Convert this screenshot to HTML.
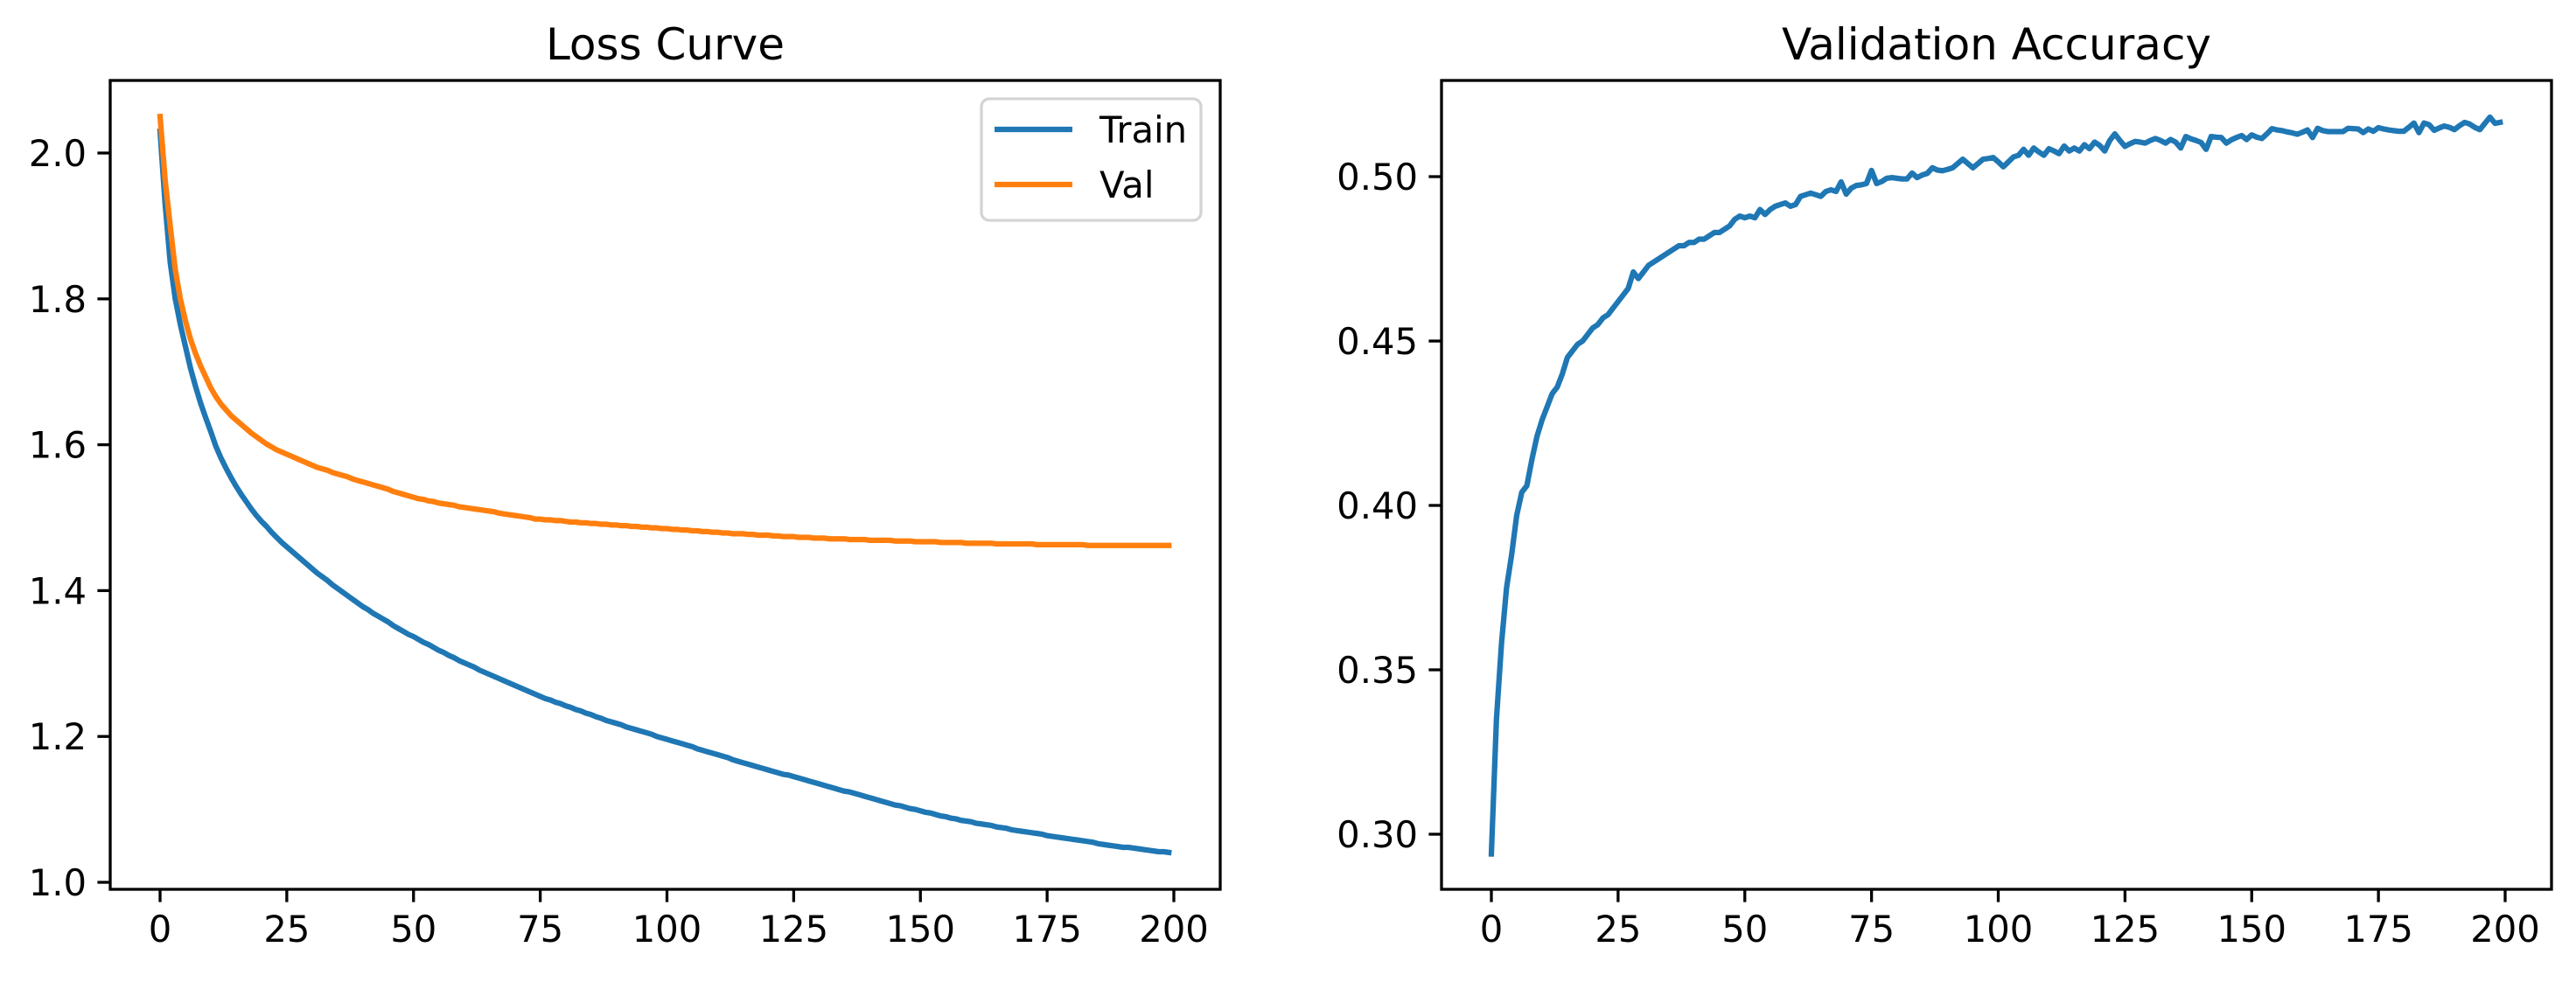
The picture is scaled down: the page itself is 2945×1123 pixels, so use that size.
<!DOCTYPE html>
<html><head><meta charset="utf-8"><style>
html,body{margin:0;padding:0;background:#fff;}
svg text{font-family:"DejaVu Sans","Liberation Sans",sans-serif;fill:#000;}
</style></head><body>
<svg id="fig" width="2945" height="1118" viewBox="0 0 2945 1118" xmlns="http://www.w3.org/2000/svg">
<rect width="2945" height="1118" fill="#fff"/>
<g id="left"></g>
<g id="right"></g>
</svg>
<script>
const xTicks = [0,25,50,75,100,125,150,175,200];
const lossTicks = [1.0,1.2,1.4,1.6,1.8,2.0];
const lossTickLabels = ["1.0","1.2","1.4","1.6","1.8","2.0"];
const accTicks = [0.30,0.35,0.40,0.45,0.50];
const accTickLabels = ["0.30","0.35","0.40","0.45","0.50"];
const trainLoss = [2.030,1.930,1.850,1.800,1.765,1.735,1.705,1.680,1.657,1.637,
1.618,1.598,1.582,1.568,1.555,1.543,1.532,1.522,1.512,1.503,
1.495,1.488,1.480,1.473,1.466,1.460,1.454,1.448,1.442,1.436,
1.430,1.424,1.419,1.414,1.408,1.403,1.398,1.393,1.388,1.383,
1.378,1.374,1.369,1.365,1.361,1.357,1.352,1.348,1.344,1.340,
1.337,1.333,1.329,1.326,1.322,1.318,1.315,1.311,1.308,1.304,
1.301,1.298,1.295,1.291,1.288,1.285,1.282,1.279,1.276,1.273,
1.270,1.267,1.264,1.261,1.258,1.255,1.252,1.250,1.247,1.245,
1.242,1.240,1.237,1.235,1.232,1.230,1.227,1.225,1.222,1.220,
1.218,1.216,1.213,1.211,1.209,1.207,1.205,1.203,1.200,1.198,
1.196,1.194,1.192,1.190,1.188,1.186,1.183,1.181,1.179,1.177,
1.175,1.173,1.171,1.168,1.166,1.164,1.162,1.160,1.158,1.156,
1.154,1.152,1.150,1.148,1.147,1.145,1.143,1.141,1.139,1.137,
1.135,1.133,1.131,1.129,1.127,1.125,1.124,1.122,1.120,1.118,
1.116,1.114,1.112,1.110,1.108,1.106,1.105,1.103,1.101,1.100,
1.098,1.096,1.095,1.093,1.091,1.090,1.088,1.087,1.085,1.084,
1.083,1.081,1.080,1.079,1.078,1.076,1.075,1.074,1.072,1.071,
1.070,1.069,1.068,1.067,1.066,1.064,1.063,1.062,1.061,1.060,
1.059,1.058,1.057,1.056,1.055,1.053,1.052,1.051,1.050,1.049,
1.048,1.048,1.047,1.046,1.045,1.044,1.043,1.042,1.042,1.041];
const valLoss = [2.050,1.963,1.900,1.840,1.800,1.770,1.745,1.725,1.708,1.693,
1.678,1.666,1.656,1.648,1.640,1.634,1.628,1.622,1.616,1.611,
1.606,1.601,1.597,1.593,1.590,1.587,1.584,1.581,1.578,1.575,
1.572,1.569,1.567,1.565,1.562,1.560,1.558,1.556,1.553,1.551,
1.549,1.547,1.545,1.543,1.541,1.539,1.536,1.534,1.532,1.530,
1.528,1.526,1.525,1.523,1.522,1.520,1.519,1.518,1.517,1.515,
1.514,1.513,1.512,1.511,1.510,1.509,1.508,1.506,1.505,1.504,
1.503,1.502,1.501,1.500,1.498,1.498,1.497,1.497,1.496,1.496,
1.495,1.494,1.494,1.493,1.493,1.492,1.492,1.491,1.491,1.490,
1.490,1.489,1.489,1.488,1.488,1.487,1.487,1.486,1.486,1.485,
1.485,1.484,1.484,1.483,1.483,1.482,1.482,1.481,1.481,1.480,
1.480,1.479,1.479,1.478,1.478,1.478,1.477,1.477,1.476,1.476,
1.476,1.475,1.475,1.474,1.474,1.474,1.473,1.473,1.473,1.472,
1.472,1.472,1.471,1.471,1.471,1.471,1.470,1.470,1.470,1.470,
1.469,1.469,1.469,1.469,1.469,1.468,1.468,1.468,1.468,1.467,
1.467,1.467,1.467,1.467,1.466,1.466,1.466,1.466,1.466,1.465,
1.465,1.465,1.465,1.465,1.465,1.464,1.464,1.464,1.464,1.464,
1.464,1.464,1.464,1.463,1.463,1.463,1.463,1.463,1.463,1.463,
1.463,1.463,1.463,1.462,1.462,1.462,1.462,1.462,1.462,1.462,
1.462,1.462,1.462,1.462,1.462,1.462,1.462,1.462,1.462,1.462];
const valAcc = [0.294,0.335,0.358,0.375,0.385,0.397,0.404,0.406,0.414,0.421,
0.426,0.430,0.434,0.436,0.440,0.445,0.447,0.449,0.450,0.452,
0.454,0.455,0.457,0.458,0.460,0.462,0.464,0.466,0.471,0.469,
0.471,0.473,0.474,0.475,0.476,0.477,0.478,0.479,0.479,0.480,
0.480,0.481,0.481,0.482,0.483,0.483,0.484,0.485,0.487,0.488,
0.4875,0.488,0.4875,0.490,0.4885,0.490,0.491,0.4915,0.492,0.491,
0.4915,0.494,0.4945,0.495,0.4945,0.494,0.4955,0.496,0.4955,0.4984,
0.4947,0.4965,0.4973,0.4975,0.4979,0.5019,0.4979,0.4985,0.4995,0.4997,
0.4995,0.4993,0.4993,0.5011,0.4997,0.5005,0.501,0.5027,0.502,0.5018,
0.5022,0.5027,0.504,0.5053,0.504,0.5027,0.504,0.5053,0.5055,0.5058,
0.5045,0.503,0.5045,0.506,0.5065,0.5083,0.5065,0.5087,0.5075,0.5065,
0.5085,0.5078,0.507,0.5093,0.5078,0.5087,0.5078,0.5097,0.5085,0.5105,
0.5095,0.5078,0.511,0.513,0.511,0.5092,0.510,0.5107,0.5105,0.5102,
0.511,0.5116,0.511,0.5102,0.5113,0.5105,0.5087,0.5122,0.5115,0.511,
0.5104,0.5083,0.5122,0.512,0.5119,0.5102,0.5112,0.5119,0.5125,0.5113,
0.5127,0.512,0.5116,0.513,0.5146,0.5142,0.514,0.5136,0.5133,0.5129,
0.5135,0.5142,0.5119,0.5147,0.514,0.5137,0.5137,0.5137,0.5137,0.5147,
0.5146,0.5145,0.5134,0.5145,0.5138,0.5149,0.5145,0.5142,0.514,0.5138,
0.5138,0.515,0.5163,0.5134,0.5163,0.5158,0.5141,0.5148,0.5154,0.515,
0.5143,0.5155,0.5165,0.516,0.515,0.5143,0.5162,0.5181,0.5162,0.5165];

const NS = "http://www.w3.org/2000/svg";
function mk(parent, tag, attrs, text){
  const e = document.createElementNS(NS, tag);
  for (const k in attrs) e.setAttribute(k, attrs[k]);
  if (text !== undefined) e.textContent = text;
  parent.appendChild(e);
  return e;
}
function drawPanel(g, box, xToPx, yToPx, yTicks, yLabels, title){
  const t = mk(g, "text", {x:(box.l+box.r)/2, y:68, "text-anchor":"middle", "font-size":"50"}, title);
  
  
  xTicks.forEach(v=>{
    const x = xToPx(v);
    const tk = mk(g, "line", {x1:x, x2:x, y1:box.b, y2:box.b+14.6, stroke:"#000","stroke-width":3.3});
    
    
    const lb = mk(g, "text", {x:x, y:box.b+60, "text-anchor":"middle", "font-size":"41.7"}, String(v));
    
    
  });
  yTicks.forEach((v,i)=>{
    const y = yToPx(v);
    const tk = mk(g, "line", {x1:box.l-14.6, x2:box.l, y1:y, y2:y, stroke:"#000","stroke-width":3.3});
    
    
    const lb = mk(g, "text", {x:box.l-27, y:y+15, "text-anchor":"end", "font-size":"41.7"}, yLabels[i]);
    
    
  });
}
function line(g, xs, ys, xToPx, yToPx, color, name){
  const pts = ys.map((v,i)=>xToPx(i).toFixed(2)+","+yToPx(v).toFixed(2)).join(" ");
  const p = mk(g, "polyline", {points:pts, fill:"none", stroke:color, "stroke-width":6.25, "stroke-linejoin":"round", "stroke-linecap":"square"});
  
  
}
function frame(g, box){
  const f = mk(g, "rect", {x:box.l, y:box.t, width:box.r-box.l, height:box.b-box.t, fill:"none", stroke:"#000", "stroke-width":3.3});
  
  
}

const L = document.getElementById("left");
const lb = {l:126, r:1395, t:92, b:1017};
const lx = v => 183 + v*5.795;
const ly = v => 175 + (2.0 - v)*834;
drawPanel(L, lb, lx, ly, lossTicks, lossTickLabels, "Loss Curve");
line(L, null, trainLoss, lx, ly, "#1f77b4", "train-loss-line");
line(L, null, valLoss, lx, ly, "#ff7f0e", "val-loss-line");
frame(L, lb);
const lg = mk(L, "g", {});


mk(lg, "rect", {x:1122, y:113, width:251, height:139, rx:9, fill:"#fff", "fill-opacity":0.8, stroke:"#d4d4d4", "stroke-width":3.3});
const e1 = mk(lg, "line", {x1:1137, x2:1226, y1:148, y2:148, stroke:"#1f77b4", "stroke-width":6.25});


const t1 = mk(lg, "text", {x:1257, y:163, "font-size":"41.7"}, "Train");


const e2 = mk(lg, "line", {x1:1137, x2:1226, y1:211, y2:211, stroke:"#ff7f0e", "stroke-width":6.25});


const t2 = mk(lg, "text", {x:1257, y:226, "font-size":"41.7"}, "Val");



const R = document.getElementById("right");
const rb = {l:1648, r:2917, t:92, b:1017};
const rx = v => 1705 + v*5.795;
const ry = v => 202 + (0.50 - v)*3760;
drawPanel(R, rb, rx, ry, accTicks, accTickLabels, "Validation Accuracy");
line(R, null, valAcc, rx, ry, "#1f77b4", "val-accuracy-line");
frame(R, rb);
</script>
</body></html>
